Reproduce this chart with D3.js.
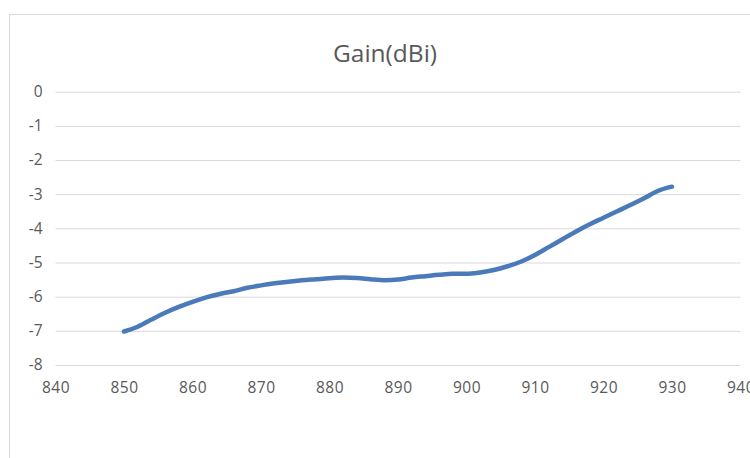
<!DOCTYPE html>
<html>
<head>
<meta charset="utf-8">
<script src="https://cdn.jsdelivr.net/npm/d3@7/dist/d3.min.js"></script>
<style>
  html, body { margin: 0; padding: 0; background: #fff; }
  svg { display: block; }
  text { font-family: "Open Sans", "Noto Sans", sans-serif; fill: #595959; }
</style>
</head>
<body>
<svg id="chart" width="750" height="458"></svg>
<script>
const title = "Gain(dBi)";
const xTicks = [840, 850, 860, 870, 880, 890, 900, 910, 920, 930, 940];
const yTicks = [0, -1, -2, -3, -4, -5, -6, -7, -8];
const freq = [850,852,854,856,858,860,862,864,866,868,870,872,874,876,878,880,882,884,886,888,890,892,894,896,898,900,902,904,906,908,910,912,914,916,918,920,922,924,926,928,930];
const gain = [-7.02,-6.88,-6.67,-6.47,-6.30,-6.15,-6.02,-5.92,-5.84,-5.74,-5.67,-5.61,-5.56,-5.52,-5.49,-5.46,-5.44,-5.45,-5.49,-5.52,-5.50,-5.44,-5.40,-5.36,-5.33,-5.33,-5.29,-5.22,-5.11,-4.97,-4.78,-4.55,-4.32,-4.09,-3.88,-3.69,-3.50,-3.31,-3.11,-2.90,-2.78];

const svg = d3.select("#chart");

svg.append("rect")
  .attr("x", 9.5).attr("y", 14.5)
  .attr("width", 800).attr("height", 500)
  .attr("fill", "#fff").attr("stroke", "#d9d9d9").attr("stroke-width", 1);

const x = d3.scaleLinear().domain([840, 940]).range([55.5, 740.5]);
const y = d3.scaleLinear().domain([-8, 0]).range([365, 91.7]);

const yAxis = d3.axisLeft(y).tickValues(yTicks).tickSize(-(740.5 - 55.5)).tickPadding(13).tickFormat(d3.format("d"));
const gy = svg.append("g").attr("transform", "translate(55.5,0)").call(yAxis);
gy.select(".domain").remove();
gy.selectAll(".tick line").attr("stroke", "#d9d9d9").attr("stroke-width", 1);
gy.selectAll(".tick text").attr("font-size", 15.5).style("fill", "#595959")
  .text(d => d < 0 ? "-" + Math.abs(d) : String(d));

const xAxis = d3.axisBottom(x).tickValues(xTicks).tickSize(0).tickPadding(17).tickFormat(d3.format("d"));
const gx = svg.append("g").attr("transform", "translate(0,365)").call(xAxis);
gx.select(".domain").remove();
gx.selectAll(".tick text").attr("font-size", 15.5).attr("letter-spacing", 0.5).style("fill", "#595959");

const data = freq.map((f, i) => [f, gain[i]]);
svg.append("path")
  .datum(data)
  .attr("fill", "none")
  .attr("stroke", "#4a7ab9")
  .attr("stroke-width", 4.5)
  .attr("stroke-linecap", "round")
  .attr("stroke-linejoin", "round")
  .attr("d", d3.line().x(d => x(d[0])).y(d => y(d[1])).curve(d3.curveMonotoneX));

svg.append("text")
  .attr("x", 385).attr("y", 62)
  .attr("text-anchor", "middle")
  .attr("font-size", 24.5)
  .style("fill", "#595959")
  .text(title);
</script>
</body>
</html>
